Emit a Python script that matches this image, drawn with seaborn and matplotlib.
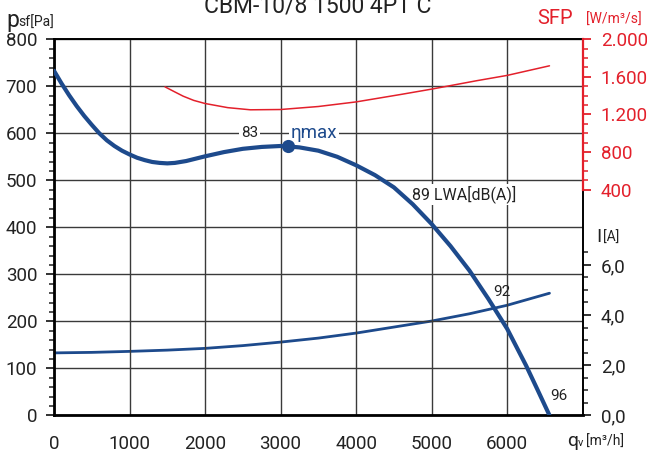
import matplotlib
matplotlib.use("Agg")
import matplotlib.pyplot as plt
import seaborn as sns
from matplotlib.ticker import FixedLocator, FuncFormatter

# Fan curve: static pressure [Pa] vs. air flow [m3/h]
flow_pressure = [0, 100, 200, 300, 400, 500, 600, 700, 800, 900, 1000, 1100, 1200,
                 1300, 1400, 1500, 1600, 1750, 2000, 2250, 2500, 2750, 3000, 3100,
                 3250, 3500, 3750, 4000, 4250, 4500, 4750, 5000, 5250, 5500, 5750,
                 6000, 6250, 6400, 6560]
pressure = [733, 706, 681, 658, 637, 618, 600, 585, 573, 563, 555, 548, 543,
            539, 537, 536, 537, 541, 551, 560, 567, 571, 573, 572,
            570, 563, 550, 532, 511, 485, 449, 407, 360, 308, 248,
            184, 106, 55, 0]

# Motor current [A]
flow_current = [0, 500, 1000, 1500, 2000, 2500, 3000, 3500, 4000, 4500, 5000,
                5500, 6000, 6560]
current = [2.49, 2.51, 2.55, 2.60, 2.67, 2.78, 2.92, 3.08, 3.28, 3.52, 3.76,
           4.05, 4.39, 4.87]

# Specific fan power [W/m3/s]
flow_sfp = [1470, 1600, 1710, 1850, 2000, 2300, 2600, 3000, 3500, 4000, 4590,
            5000, 5600, 6000, 6560]
sfp = [1494, 1440, 1395, 1350, 1317, 1273, 1250, 1253, 1285, 1334, 1413,
       1470, 1560, 1616, 1718]

# Max efficiency point
eta_flow, eta_pressure = 3100, 572

# Sound power labels along the curve: text, flow, pressure
sound_text = ["83", "92", "96"]
sound_flow = [2590, 5930, 6690]
sound_pres = [600, 263, 40]

x_ticks = [0, 1000, 2000, 3000, 4000, 5000, 6000]
p_ticks = [0, 100, 200, 300, 400, 500, 600, 700, 800]
sfp_ticks = [400, 800, 1200, 1600, 2000]
i_ticks = [0, 2, 4, 6]

title = "CBM-10/8 1500 4PT C"

BLUE = "#1d4a8c"
RED = "#e3202b"
INK = "#222222"
GRID = "#3a3a3a"

sns.set_theme(style="white")
plt.rcParams["font.family"] = ["Roboto", "DejaVu Sans"]

W, H = 647, 454
fig = plt.figure(figsize=(W / 100, H / 100), dpi=100)
fig.patch.set_facecolor("white")


def px(x, y):
    return x / W, 1 - y / H


left, right, top, bottom = 54, 582.7, 39.3, 415.3
ax = fig.add_axes([left / W, 1 - bottom / H, (right - left) / W, (bottom - top) / H])
ax_i = ax.twinx()
ax_s = ax.twinx()
ax_i.set_zorder(1)
ax.set_zorder(2)
ax_s.set_zorder(3)
for a in (ax, ax_i, ax_s):
    a.patch.set_visible(False)

# --- pressure axis ---
ax.set_xlim(0, 7000)
ax.set_ylim(0, 800)
ax.xaxis.set_major_locator(FixedLocator(x_ticks))
ax.xaxis.set_minor_locator(FixedLocator([v for v in range(200, 7000, 200) if v % 1000]))
ax.yaxis.set_major_locator(FixedLocator(p_ticks))
ax.yaxis.set_minor_locator(FixedLocator([v for v in range(20, 800, 20) if v % 100]))
ax.grid(True, which="major", color=GRID, lw=1.0)
ax.tick_params(axis="x", which="major", direction="out", length=7, width=1.3,
               colors=INK, labelsize=13.5, pad=7)
ax.tick_params(axis="x", which="minor", direction="out", length=4.5, width=1.1, colors=INK)
ax.tick_params(axis="y", which="major", direction="out", length=6, width=1.3,
               colors=INK, labelsize=13.5, pad=6)
ax.tick_params(axis="y", which="minor", direction="out", length=3.5, width=1.1, colors=INK)
for side in ("left", "bottom"):
    ax.spines[side].set_color("black")
    ax.spines[side].set_linewidth(2.0)
for side in ("top", "right"):
    ax.spines[side].set_color("black")
    ax.spines[side].set_linewidth(1.4)

sns.lineplot(x=flow_pressure, y=pressure, ax=ax, color=BLUE, lw=3.0,
             sort=False, estimator=None, zorder=3)
sns.scatterplot(x=[eta_flow], y=[eta_pressure], ax=ax, color=BLUE, s=90,
                edgecolor=BLUE, linewidth=0, zorder=6)

# label boxes break the grid lines but stay beneath the curve
box = dict(facecolor="white", edgecolor="none", pad=1.2)
ax.text(sound_flow[0], sound_pres[0], sound_text[0], ha="center", va="center",
        fontsize=11, color=INK, bbox=box, zorder=1.8)
ax.text(3440, 600, "ηmax", ha="center", va="center", fontsize=13.5, color=BLUE,
        bbox=box, zorder=1.8)
ax.text(4745, 470, "89 LWA[dB(A)]", ha="left", va="center", fontsize=11.5,
        color=INK, bbox=box, zorder=1.8)
for t, f, p in zip(sound_text[1:], sound_flow[1:], sound_pres[1:]):
    ax.text(f, p, t, ha="center", va="center", fontsize=11, color=INK, zorder=5)
ax.set_xlabel("")
ax.set_ylabel("")

# --- current axis ---
ax_i.set_ylim(0, 15)
sns.lineplot(x=flow_current, y=current, ax=ax_i, color=BLUE, lw=2.0,
             sort=False, estimator=None)
ax_i.yaxis.set_major_locator(FixedLocator(i_ticks))
ax_i.yaxis.set_minor_locator(FixedLocator([0.5, 1, 1.5, 2.5, 3, 3.5, 4.5, 5, 5.5, 6.5]))
ax_i.yaxis.set_major_formatter(FuncFormatter(lambda v, _: f"{v:.1f}".replace(".", ",")))
ax_i.tick_params(axis="y", which="major", direction="out", length=6, width=1.3,
                 colors=INK, labelsize=13.5, pad=7)
ax_i.tick_params(axis="y", which="minor", direction="out", length=3.5, width=1.1, colors=INK)
for s in ax_i.spines.values():
    s.set_visible(False)
ax_i.set_ylabel("")

# --- SFP axis ---
ax_s.set_ylim(-2000, 2000)
sns.lineplot(x=flow_sfp, y=sfp, ax=ax_s, color=RED, lw=1.1,
             sort=False, estimator=None)
ax_s.yaxis.set_major_locator(FixedLocator(sfp_ticks))
ax_s.yaxis.set_minor_locator(FixedLocator([v for v in range(500, 2000, 100) if v % 400]))
ax_s.yaxis.set_major_formatter(FuncFormatter(lambda v, _: f"{int(v):,}".replace(",", ".")))
ax_s.tick_params(axis="y", which="major", direction="out", length=6, width=1.3,
                 colors=RED, labelsize=13.5, pad=7)
ax_s.tick_params(axis="y", which="minor", direction="out", length=3.5, width=1.1, colors=RED)
for name, s in ax_s.spines.items():
    s.set_visible(name == "right")
ax_s.spines["right"].set_color(RED)
ax_s.spines["right"].set_linewidth(1.6)
ax_s.spines["right"].set_bounds(400, 2000)
ax_s.set_ylabel("")

# --- titles and axis names ---
fig.text(*px(318, 12), title, ha="center", va="baseline", fontsize=16.5, color=INK)

fig.text(*px(6, 27), "p", ha="left", va="baseline", fontsize=16.5, color=INK)
fig.text(*px(18, 27), "sf[Pa]", ha="left", va="baseline", fontsize=10, color=INK)

fig.text(*px(537, 24), "SFP", ha="left", va="baseline", fontsize=14.5, color=RED)
fig.text(*px(586, 24), "[W/m³/s]", ha="left", va="baseline", fontsize=10, color=RED)

fig.text(*px(596, 242), "I", ha="left", va="baseline", fontsize=14, color=INK)
fig.text(*px(603, 242), "[A]", ha="left", va="baseline", fontsize=10, color=INK)

fig.text(*px(567, 446), "q", ha="left", va="baseline", fontsize=14, color=INK)
fig.text(*px(578, 446), "v", ha="left", va="baseline", fontsize=8, color=INK)
fig.text(*px(586, 446), "[m³/h]", ha="left", va="baseline", fontsize=10, color=INK)

fig.savefig("out.png", dpi=100, facecolor="white")
